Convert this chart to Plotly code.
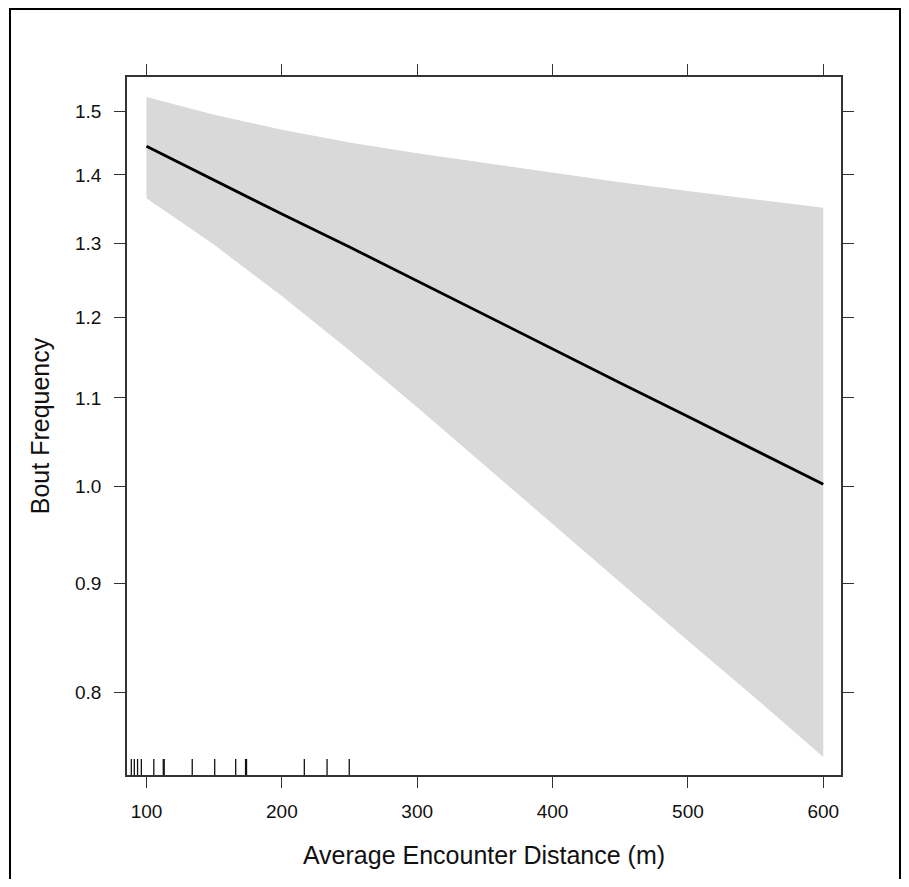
import plotly.graph_objects as go

# ---- data ----
distance = [100, 150, 200, 250, 300, 350, 400, 450, 500, 550, 600]
fit = [1.444, 1.392, 1.342, 1.295, 1.248, 1.203, 1.160, 1.118, 1.078, 1.039, 1.002]
lower = [1.365, 1.298, 1.228, 1.158, 1.089, 1.023, 0.960, 0.901, 0.846, 0.795, 0.746]
upper = [1.523, 1.494, 1.470, 1.450, 1.433, 1.418, 1.403, 1.389, 1.376, 1.363, 1.351]
rug = [88.8, 91.0, 93.4, 96.2, 105.4, 112.4, 113.1, 133.8, 150.4, 165.9,
       173.2, 173.9, 216.6, 233.4, 249.8]

x_ticks = [100, 200, 300, 400, 500, 600]
y_ticks = [0.8, 0.9, 1.0, 1.1, 1.2, 1.3, 1.4, 1.5]
y_ticktext = ["0.8", "0.9", "1.0", "1.1", "1.2", "1.3", "1.4", "1.5"]

FONT = "Liberation Sans, Arial, sans-serif"
AX = "#333333"

# figure sized so that, with the page's 8px body margin, it fills the window
W, H = 893, 871
L, R, T, B = 119, 60, 69, 104
PW, PH = W - L - R, H - T - B

fig = go.Figure()

# confidence band
fig.add_trace(go.Scatter(
    x=distance + distance[::-1],
    y=upper + lower[::-1],
    fill="toself", fillcolor="#d9d9d9",
    line=dict(width=0), mode="lines",
    hoverinfo="skip", showlegend=False))

# fitted line
fig.add_trace(go.Scatter(
    x=distance, y=fit, mode="lines",
    line=dict(color="black", width=2.8), showlegend=False))

# rug
for r in rug:
    fig.add_shape(type="line", xref="x", yref="y domain",
                  x0=r, x1=r, y0=0, y1=0.023,
                  line=dict(color="#111111", width=1.3))

# outer frame
fig.add_shape(type="rect", xref="paper", yref="paper",
              x0=(2 - L) / PW, x1=(892 - L) / PW,
              y0=(T + PH - 885) / PH, y1=(T + PH - 1) / PH,
              line=dict(color="black", width=2), fillcolor="rgba(0,0,0,0)")

fig.update_layout(
    width=W, height=H,
    margin=dict(l=L, r=R, t=T, b=B),
    paper_bgcolor="white", plot_bgcolor="white",
    font=dict(family=FONT, color="#111111"),
    showlegend=False,
)

fig.update_xaxes(
    range=[85.6, 613.1],
    tickvals=x_ticks,
    ticks="outside", ticklen=11, tickwidth=1.4, tickcolor=AX,
    showline=True, linecolor=AX, linewidth=1.5, mirror="ticks",
    showgrid=False, zeroline=False,
    tickfont=dict(size=19, family=FONT, color="#111111"),
    ticklabelstandoff=7,
    title=dict(text="Average Encounter Distance (m)",
               font=dict(size=25, family=FONT, color="#111111"), standoff=26),
)

fig.update_yaxes(
    type="log",
    range=[-0.1357, 0.1921],
    tickvals=y_ticks, ticktext=y_ticktext,
    ticks="outside", ticklen=11, tickwidth=1.4, tickcolor=AX,
    showline=True, linecolor=AX, linewidth=1.5, mirror="ticks",
    showgrid=False, zeroline=False,
    tickfont=dict(size=19, family=FONT, color="#111111"),
    ticklabelstandoff=9,
    title=dict(text="Bout Frequency",
               font=dict(size=25, family=FONT, color="#111111"), standoff=18),
)

fig.write_html("out.html")
